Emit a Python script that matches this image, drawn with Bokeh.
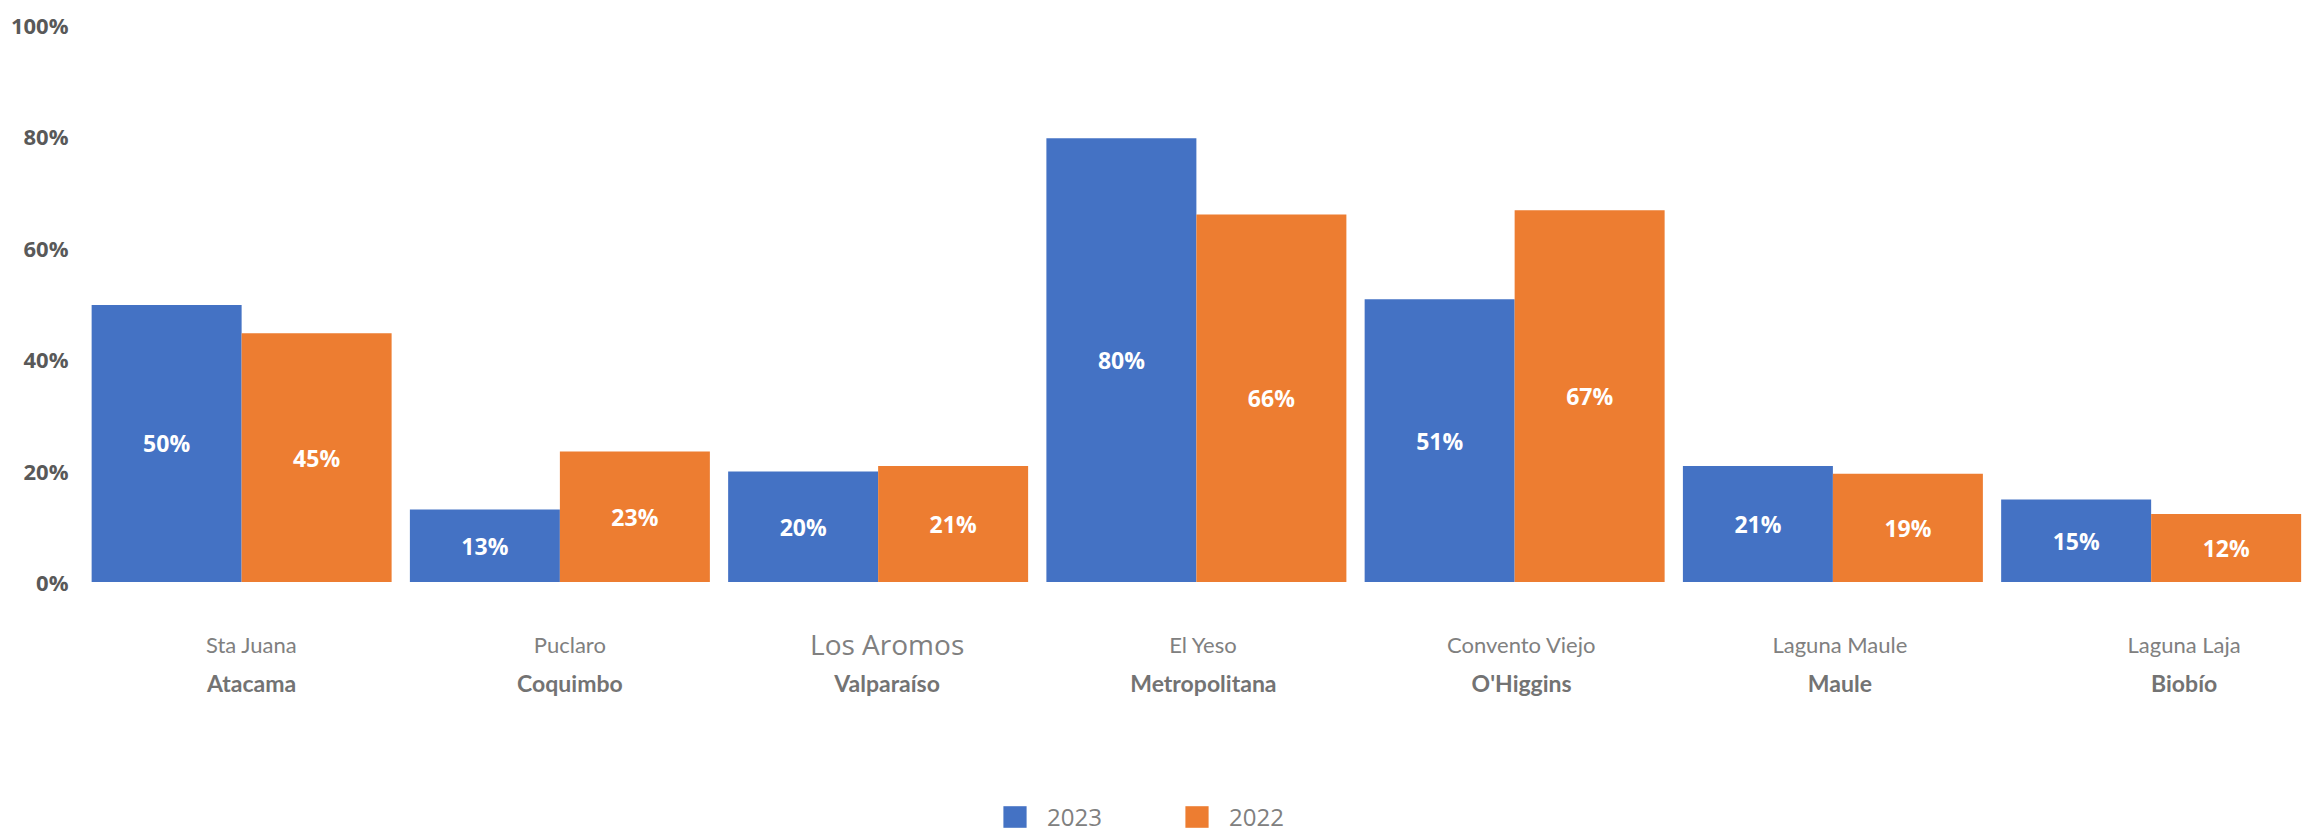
import numpy as np
from bokeh.plotting import figure
from bokeh.models import ColumnDataSource, FixedTicker, Legend, LegendItem
from bokeh.core.properties import value
from bokeh.embed import file_html
from bokeh.resources import INLINE

# ---------------- data ----------------
embalses = ["Sta Juana", "Puclaro", "Los Aromos", "El Yeso",
            "Convento Viejo", "Laguna Maule", "Laguna Laja"]
regiones = ["Atacama", "Coquimbo", "Valparaíso", "Metropolitana",
            "O'Higgins", "Maule", "Biobío"]
pct_2023 = [49.7, 13.0, 19.8, 79.6, 50.7, 20.8, 14.8]
pct_2022 = [44.6, 23.4, 20.8, 65.9, 66.7, 19.4, 12.2]
series = ["2023", "2022"]
y_ticks = [0, 20, 40, 60, 80, 100]

# ---------------- style / layout ----------------
BLUE = "#4472C4"
ORANGE = "#ED7D31"
n = len(embalses)
PX = 5.575            # screen pixels per percentage point
BAR_W = 0.4713        # each bar width in category units
TOP = 24
H = 836
FRAME_H = H - TOP
label_dx = [10, 10, 9, 7, 7, 7, 33]   # small horizontal nudges of category labels (px)
centers = np.arange(n) + 0.5

p = figure(width=2305, height=H,
           x_range=(0, 6.985), y_range=(100 - FRAME_H / PX, 100),
           output_backend="svg", toolbar_location=None,
           min_border_left=82, min_border_right=0,
           min_border_top=TOP, min_border_bottom=0)
p.outline_line_color = None
p.xgrid.visible = False
p.ygrid.visible = False
p.xaxis.visible = False

ya = p.yaxis[0]
ya.ticker = FixedTicker(ticks=y_ticks)
ya.major_label_overrides = {t: f"{t}%" for t in y_ticks}
ya.axis_line_color = None
ya.major_tick_line_color = None
ya.minor_tick_line_color = None
ya.major_label_standoff = 8
ya.major_label_text_font = "Open Sans"
ya.major_label_text_font_style = "bold"
ya.major_label_text_font_size = "22px"
ya.major_label_text_color = "#595959"

src = ColumnDataSource(dict(
    x23=centers - BAR_W / 2,
    x22=centers + BAR_W / 2,
    v23=pct_2023,
    v22=pct_2022,
    m23=[v / 2 for v in pct_2023],
    m22=[v / 2 for v in pct_2022],
    t23=[f"{round(v)}%" for v in pct_2023],
    t22=[f"{round(v)}%" for v in pct_2022],
    cx=centers,
    dx=label_dx,
    name=embalses,
    region=regiones,
    name_font=["Open Sans" if e == "Los Aromos" else "Lato" for e in embalses],
    name_size=["28px" if e == "Los Aromos" else "22px" for e in embalses],
))

r1 = p.vbar(x="x23", top="v23", width=BAR_W, source=src,
            fill_color=BLUE, line_color=None)
r2 = p.vbar(x="x22", top="v22", width=BAR_W, source=src,
            fill_color=ORANGE, line_color=None)

for xcol, ycol, tcol in (("x23", "m23", "t23"), ("x22", "m22", "t22")):
    p.text(x=xcol, y=ycol, text=tcol, source=src,
           text_align="center", text_baseline="middle",
           text_font=value("Open Sans"), text_font_style="bold",
           text_font_size="23px", text_color="#FFFFFF")

# category labels (two lines) below the bars
p.text(x="cx", y=-62 / PX, text="name", source=src, x_offset="dx",
       text_align="center", text_baseline="alphabetic",
       text_font="name_font", text_font_size="name_size",
       text_color="#808080")
p.text(x="cx", y=-101 / PX, text="region", source=src, x_offset="dx",
       text_align="center", text_baseline="alphabetic",
       text_font=value("Lato"), text_font_style="bold",
       text_font_size="23px", text_color="#737373")

legend = Legend(items=[LegendItem(label=series[0], renderers=[r1]),
                       LegendItem(label=series[1], renderers=[r2])],
                orientation="horizontal", location=(918, 3))
legend.glyph_width = 29
legend.glyph_height = 27
legend.label_standoff = 18
legend.label_width = 135
legend.label_height = 27
legend.spacing = 0
legend.padding = 0
legend.margin = 0
legend.border_line_color = None
legend.background_fill_alpha = 0
legend.label_text_font = "Open Sans"
legend.label_text_font_size = "24px"
legend.label_text_color = "#808080"
legend.label_text_baseline = "middle"
p.add_layout(legend)

open("out.html", "w").write(file_html(p, INLINE))
